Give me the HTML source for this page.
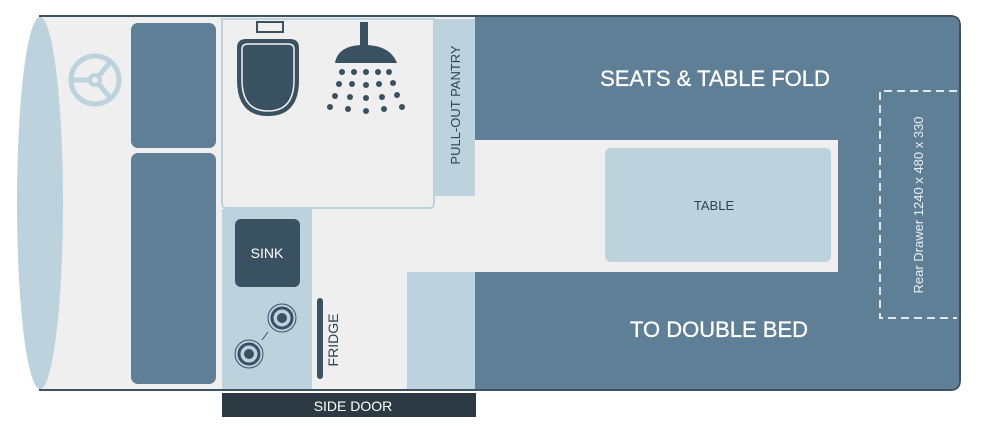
<!DOCTYPE html>
<html><head><style>
body{margin:0;background:#fff;}
svg{display:block;font-family:"Liberation Sans",sans-serif;}
</style></head><body>
<svg width="1000" height="448" viewBox="0 0 1000 448" xmlns="http://www.w3.org/2000/svg">
<path d="M40 16 H950 Q960 16 960 26 V380 Q960 390 950 390 H40 Z" fill="#efefef" stroke="#3d5262" stroke-width="2"/>
<path d="M475 17 H950 Q959 17 959 26 V380 Q959 389 950 389 H475 Z" fill="#5f7f96"/>
<ellipse cx="40" cy="203" rx="23" ry="186" fill="#bcd3de"/>
<rect x="475" y="140" width="363" height="132" fill="#efefef"/>
<rect x="605" y="148" width="226" height="114" rx="6" fill="#bcd3de"/>
<text x="714" y="210" font-size="13" fill="#2f4452" text-anchor="middle">TABLE</text>
<text x="715" y="86" font-size="22" fill="#fff" text-anchor="middle" stroke="#fff" stroke-width="0.3">SEATS &amp; TABLE FOLD</text>
<text x="719" y="337" font-size="22" fill="#fff" text-anchor="middle" stroke="#fff" stroke-width="0.3">TO DOUBLE BED</text>
<path d="M957 91 H880 V318 H957" fill="none" stroke="#dfe8ee" stroke-width="2" stroke-dasharray="8,5"/>
<text transform="translate(923,205) rotate(-90)" font-size="13" fill="#e8eef2" text-anchor="middle">Rear Drawer 1240 x 480 x 330</text>
<rect x="434" y="19" width="41" height="177" fill="#bcd3de"/>
<text transform="translate(460,105) rotate(-90)" font-size="13" fill="#2f4452" text-anchor="middle">PULL-OUT PANTRY</text>
<path d="M222 19 H434 V203 Q434 208 429 208 H227 Q222 208 222 203 Z" fill="#efefef" stroke="#bcd3de" stroke-width="2"/>
<rect x="257" y="22" width="26" height="10" fill="#efefef" stroke="#3a5161" stroke-width="2"/>
<path d="M238 48 Q238 40 246 40 H290 Q298 40 298 48 V80 Q298 115 268 115 Q238 115 238 80 Z" fill="#3a5161" stroke="#3a5161" stroke-width="2"/>
<path d="M242 49 Q242 44 248 44 H288 Q294 44 294 49 V80 Q294 111 268 111 Q242 111 242 80 Z" fill="#3a5161" stroke="#efefef" stroke-width="1.5"/>
<rect x="360" y="22" width="8" height="25" fill="#3a5161"/>
<path d="M335 63 Q338 45 364 45 Q390 45 397 63 Z" fill="#3a5161"/>
<g fill="#3a5161">
<circle cx="342" cy="72" r="3"/><circle cx="354" cy="72" r="3"/><circle cx="366" cy="72" r="3"/><circle cx="378" cy="72" r="3"/><circle cx="389" cy="72" r="3"/>
<circle cx="339" cy="84" r="3"/><circle cx="352" cy="84" r="3"/><circle cx="366" cy="85" r="3"/><circle cx="379" cy="84" r="3"/><circle cx="393" cy="83" r="3"/>
<circle cx="335" cy="96" r="3"/><circle cx="350" cy="97" r="3"/><circle cx="366" cy="98" r="3"/><circle cx="382" cy="97" r="3"/><circle cx="397" cy="95" r="3"/>
<circle cx="330" cy="107" r="3"/><circle cx="348" cy="109" r="3"/><circle cx="366" cy="111" r="3"/><circle cx="384" cy="109" r="3"/><circle cx="402" cy="107" r="3"/>
</g>
<rect x="131" y="23" width="85" height="125" rx="7" fill="#5f7f96"/>
<rect x="131" y="153" width="85" height="231" rx="7" fill="#5f7f96"/>
<g stroke="#bcd3de" fill="none">
<circle cx="95" cy="80" r="24" stroke-width="5"/>
<circle cx="95" cy="80" r="5" stroke-width="4"/>
<path d="M90 80 H72 M99 76 L110 62 M99 84 L110 98" stroke-width="5"/>
</g>
<rect x="222" y="209" width="90" height="180" fill="#bcd3de"/>
<rect x="235" y="219" width="65" height="68" rx="6" fill="#3a5161"/>
<text x="267" y="258" font-size="14" fill="#fff" text-anchor="middle">SINK</text>
<g fill="none" stroke="#3a5161">
<circle cx="282" cy="318" r="14" stroke-width="1"/><circle cx="282" cy="318" r="10" stroke-width="3"/>
<circle cx="249" cy="354" r="14" stroke-width="1"/><circle cx="249" cy="354" r="10" stroke-width="3"/>
<line x1="268" y1="332" x2="262" y2="340" stroke-width="1"/>
</g>
<circle cx="282" cy="318" r="5" fill="#3a5161"/><circle cx="249" cy="354" r="5" fill="#3a5161"/>
<rect x="317" y="298" width="6" height="81" rx="3" fill="#3a5161"/>
<text transform="translate(338,340) rotate(-90)" font-size="14" fill="#2f4452" text-anchor="middle">FRIDGE</text>
<rect x="407" y="272" width="68" height="117" fill="#bcd3de"/>
<rect x="222" y="393" width="254" height="24" fill="#2c3a44"/>
<text x="353" y="411" font-size="14" fill="#fff" text-anchor="middle">SIDE DOOR</text>
</svg>
</body></html>
